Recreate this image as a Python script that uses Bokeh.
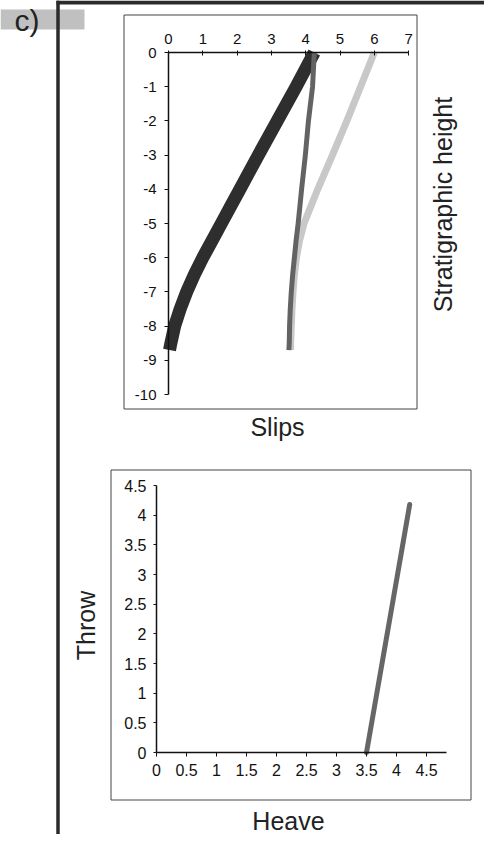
import numpy as np
from bokeh.plotting import figure
from bokeh.models import Range1d, LinearAxis, FixedTicker, Label
from bokeh.embed import file_html
from bokeh.resources import INLINE

# ---------------- data ----------------
strat_height = [0, -1, -2, -3, -4, -4.5, -5, -5.5, -6, -6.5, -7, -7.5, -8, -8.5, -8.7]
slip_black = [4.25, 3.72, 3.17, 2.62, 2.08, 1.81, 1.54, 1.27, 1.00, 0.75, 0.53, 0.34, 0.18, 0.07, 0.03]
slip_dark = [4.25, 4.20, 4.08, 3.99, 3.88, 3.83, 3.78, 3.72, 3.67, 3.62, 3.58, 3.55, 3.53, 3.52, 3.51]
slip_light = [6.00, 5.60, 5.20, 4.78, 4.35, 4.15, 3.95, 3.82, 3.73, 3.67, 3.63, 3.60, 3.58, 3.56, 3.56]

heave = [3.5, 3.65, 3.8, 3.95, 4.1, 4.22]
throw = [0, 0.87, 1.74, 2.61, 3.48, 4.18]

slip_ticks = [0, 1, 2, 3, 4, 5, 6, 7]
strat_ticks = [0, -1, -2, -3, -4, -5, -6, -7, -8, -9, -10]
strat_tick_labels = ["0", "-1", "-2", "-3", "-4", "-5", "-6", "-7", "-8", "-9", "-10"]
heave_ticks = [0, 0.5, 1, 1.5, 2, 2.5, 3, 3.5, 4, 4.5]
heave_tick_labels = ["0", "0.5", "1", "1.5", "2", "2.5", "3", "3.5", "4", "4.5"]
throw_ticks = [0, 0.5, 1, 1.5, 2, 2.5, 3, 3.5, 4, 4.5]
throw_tick_labels = ["0", "0.5", "1", "1.5", "2", "2.5", "3", "3.5", "4", "4.5"]

# ---------------- canvas ----------------
W, H = 484, 834
FONT = "Liberation Sans"

p = figure(width=W, height=H, x_range=Range1d(0, W), y_range=Range1d(H, 0),
           output_backend="svg", toolbar_location=None,
           x_axis_type=None, y_axis_type=None, min_border=0,
           outline_line_color=None, background_fill_color="white",
           border_fill_color="white")

# scales of the two charts (pixel origin + pixels per unit)
TX0, TXS = 168.0, 34.3
TY0, TYS = 52.0, 34.2
BX0, BXS = 156.0, 60.0
BY0, BYS = 752.0, 59.33
p.extra_x_ranges["slip"] = Range1d(-TX0 / TXS, (W - TX0) / TXS)
p.extra_y_ranges["strat"] = Range1d(-(H - TY0) / TYS, TY0 / TYS)
p.extra_x_ranges["heave"] = Range1d(-BX0 / BXS, (W - BX0) / BXS)
p.extra_y_ranges["throw"] = Range1d(-(H - BY0) / BYS, BY0 / BYS)

# ---------------- decorations ----------------
p.quad(left=0, right=84, top=9, bottom=29, fill_color="#c0c0c0", line_color=None)
p.line([57.5, 57.5], [0, H], line_color="#2b2b2b", line_width=3.5)
p.line([56, W], [2, 2], line_color="#2b2b2b", line_width=4)
p.quad(left=123.5, right=416.5, top=14.5, bottom=408.5, fill_color=None,
       line_color="#444444", line_width=1)
p.quad(left=110.5, right=470.5, top=469.5, bottom=799.5, fill_color=None,
       line_color="#444444", line_width=1)

p.add_layout(Label(x=14, y=20, text="c)", text_align="left", text_baseline="middle",
                   text_font=FONT, text_font_size="30px", text_color="#222222"))
p.add_layout(Label(x=277, y=426, text="Slips", text_align="center", text_baseline="middle",
                   text_font=FONT, text_font_size="25px", text_color="#222222"))
p.add_layout(Label(x=442, y=204, text="Stratigraphic height", angle=np.pi / 2,
                   text_align="center", text_baseline="middle",
                   text_font=FONT, text_font_size="25px", text_color="#222222"))
p.add_layout(Label(x=85, y=625, text="Throw", angle=np.pi / 2,
                   text_align="center", text_baseline="middle",
                   text_font=FONT, text_font_size="25px", text_color="#222222"))
p.add_layout(Label(x=288, y=820, text="Heave", text_align="center", text_baseline="middle",
                   text_font=FONT, text_font_size="25px", text_color="#222222"))

# ---------------- data glyphs ----------------
p.line(slip_black, strat_height, x_range_name="slip", y_range_name="strat",
       line_color="#2e2e2e", line_width=13, line_cap="butt", line_join="round")
p.line(slip_light, strat_height, x_range_name="slip", y_range_name="strat",
       line_color="#c8c8c8", line_width=7, line_cap="butt", line_join="round")
p.line(slip_dark, strat_height, x_range_name="slip", y_range_name="strat",
       line_color="#636363", line_width=5, line_cap="butt", line_join="round")
p.line(heave, throw, x_range_name="heave", y_range_name="throw",
       line_color="#666666", line_width=5, line_cap="round")


def style(ax, size):
    ax.axis_line_color = "#111111"
    ax.axis_line_width = 1.5
    ax.major_tick_line_color = "#111111"
    ax.major_tick_line_width = 1
    ax.minor_tick_line_color = None
    ax.major_label_text_font = FONT
    ax.major_label_text_font_size = size
    ax.major_label_text_color = "#111111"


# top chart axes
xa = LinearAxis(x_range_name="slip", y_range_name="strat", fixed_location=0,
                bounds=(0, 7), ticker=FixedTicker(ticks=slip_ticks))
style(xa, "15px")
xa.major_tick_in = 3
xa.major_tick_out = 2
xa.major_label_standoff = 7
p.add_layout(xa, "above")

ya = LinearAxis(x_range_name="slip", y_range_name="strat", fixed_location=0,
                bounds=(-10, 0), ticker=FixedTicker(ticks=strat_ticks),
                major_label_overrides=dict(zip([float(t) for t in strat_ticks], strat_tick_labels)))
style(ya, "15px")
ya.major_tick_in = 0
ya.major_tick_out = 4
ya.major_label_standoff = 8
p.add_layout(ya, "left")

# bottom chart axes
bxa = LinearAxis(x_range_name="heave", y_range_name="throw", fixed_location=0,
                 bounds=(0, 4.83), ticker=FixedTicker(ticks=heave_ticks),
                 major_label_overrides=dict(zip([float(t) for t in heave_ticks], heave_tick_labels)))
style(bxa, "16px")
bxa.major_tick_in = 0
bxa.major_tick_out = 4
bxa.major_label_standoff = 7
p.add_layout(bxa, "below")

bya = LinearAxis(x_range_name="heave", y_range_name="throw", fixed_location=0,
                 bounds=(0, 4.5), ticker=FixedTicker(ticks=throw_ticks),
                 major_label_overrides=dict(zip([float(t) for t in throw_ticks], throw_tick_labels)))
style(bya, "16px")
bya.major_tick_in = 0
bya.major_tick_out = 3
bya.major_label_standoff = 7
p.add_layout(bya, "left")

open("out.html", "w").write(file_html(p, INLINE))
